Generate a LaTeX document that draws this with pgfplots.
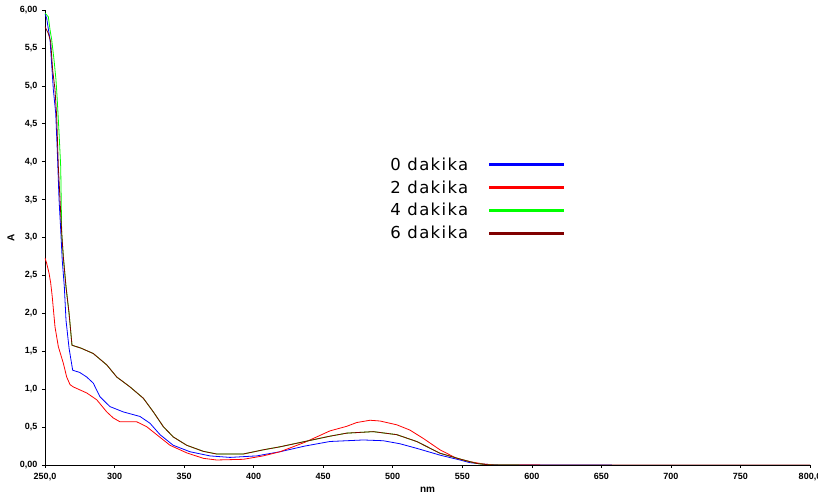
\documentclass[border=0pt]{standalone}
\usepackage{fontspec}
\setmainfont{Liberation Sans}
\newfontfamily\legfont[LetterSpace=8]{DejaVu Sans}
\usepackage{pgfplots}
\pgfplotsset{compat=1.18}
\definecolor{cblue}{RGB}{0,0,255}
\definecolor{cred}{RGB}{255,0,0}
\definecolor{cgreen}{RGB}{0,255,0}
\definecolor{cbrown}{RGB}{128,0,0}
\begin{document}
\begin{tikzpicture}
\begin{axis}[
  scale only axis,
  width=765pt, height=455pt,
  xmin=250, xmax=800, ymin=0, ymax=6,
  axis lines=left,
  axis line style={black, line width=0.8pt, -},
  tick align=outside,
  major tick length=3pt,
  tick style={black, line width=0.6pt},
  xtick={250,300,...,800},
  xticklabels={{\textbf{250,0}},\textbf{300},\textbf{350},\textbf{400},\textbf{450},\textbf{500},\textbf{550},\textbf{600},\textbf{650},\textbf{700},\textbf{750},{\textbf{800,0}}},
  ytick={0,0.5,...,6},
  yticklabels={{\textbf{0,00}},{\textbf{0,5}},{\textbf{1,0}},{\textbf{1,5}},{\textbf{2,0}},{\textbf{2,5}},{\textbf{3,0}},{\textbf{3,5}},{\textbf{4,0}},{\textbf{4,5}},{\textbf{5,0}},{\textbf{5,5}},{\textbf{6,00}}},
  ticklabel style={font=\fontsize{9}{10}\selectfont},
  xticklabel style={yshift=-1.5pt},
  yticklabel style={xshift=-1pt},
  xlabel={\textbf{nm}},
  ylabel={\textbf{A}},
  label style={font=\fontsize{9}{10}\selectfont},
  every axis x label/.style={at={(rel axis cs:0.5,0)}, anchor=center, yshift=-25pt},
  every axis y label/.style={at={(rel axis cs:0,0.5)}, anchor=center, xshift=-34pt, rotate=90},
  legend plot pos=right,
  legend cell align=left,
  legend style={draw=none, fill=none, at={(rel axis cs:0.450,0.678)}, anchor=north west,
    font=\legfont\fontsize{16.5}{19}\selectfont, inner sep=0pt, row sep=6.8pt,
    nodes={inner sep=1pt}},
  legend image code/.code={\path[draw=none] (0pt,0pt) -- (95pt,0pt); \draw[#1, line width=3pt] (20pt,0pt) -- (95pt,0pt);},
  every axis plot/.append style={line width=0.8pt},
]
\addplot[cblue] coordinates {
(250,5.95)(251.2,5.89)(253.6,5.61)(256.0,4.95)(257.7,4.64)(258.8,4.16)(260.1,3.50)(261.3,3.10)(262.4,2.70)(263.9,2.35)(265.1,1.91)(267.3,1.54)(269.9,1.25)(275,1.22)(280.0,1.16)(284.7,1.08)(289.5,0.90)(296.7,0.77)(306.3,0.70)(318.3,0.64)(325.5,0.55)(332.7,0.40)(342.2,0.26)(354.2,0.175)(368.6,0.12)(383.0,0.10)(402.2,0.12)(419.0,0.175)(436.9,0.25)(454.9,0.31)(466.9,0.32)(478.8,0.33)(493.2,0.32)(505.2,0.28)(517.2,0.22)(534.0,0.13)(548.4,0.066)(555.6,0.03)(566.3,0.01)(577,0)(657.6,0)
};
\addlegendentry{0 dakika}
\addplot[cred] coordinates {
(250,2.73)(251.2,2.66)(252.9,2.53)(254.1,2.40)(255.2,2.22)(257.2,1.82)(259.6,1.56)(263.2,1.34)(265.6,1.16)(268.0,1.06)(270.3,1.03)(280.0,0.95)(287.2,0.86)(294.4,0.70)(299.1,0.62)(303.9,0.57)(315.9,0.57)(323.1,0.505)(330.3,0.40)(339.9,0.26)(351.9,0.16)(363.8,0.088)(373.4,0.066)(392.6,0.075)(406.9,0.12)(419.0,0.175)(436.9,0.30)(454.9,0.45)(466.9,0.51)(474.1,0.56)(483.7,0.59)(490.9,0.58)(502.9,0.53)(512.4,0.46)(522.0,0.35)(534.0,0.20)(545.9,0.088)(555.6,0.044)(565.1,0.013)(573.5,0)(605.9,0)
};
\addlegendentry{2 dakika}
\addplot[cgreen] coordinates {
(250,5.96)(252.4,5.91)(253.6,5.74)(254.8,5.61)(256.5,5.34)(257.9,5.08)(258.8,4.82)(260.1,4.38)(261.3,3.93)(262.0,3.06)(263.2,2.74)(265.1,2.35)(267.3,2.00)(269.4,1.58)(276,1.54)(284.7,1.47)(294.4,1.32)(301.6,1.16)(311.1,1.03)(320.7,0.88)(327.9,0.70)(335.1,0.505)(342.2,0.37)(351.9,0.26)(363.8,0.18)(373.4,0.145)(392.6,0.145)(406.9,0.20)(419.0,0.24)(436.9,0.31)(454.9,0.38)(466.9,0.42)(486.0,0.44)(502.9,0.40)(517.2,0.31)(534.0,0.155)(550.8,0.066)(560.4,0.02)(570,0)(591,0)
};
\addlegendentry{4 dakika}
\addplot[cbrown] coordinates {
(250,5.78)(252.4,5.69)(254.1,5.58)(255.5,5.21)(257.2,4.95)(258.4,4.59)(259.6,3.93)(260.8,3.50)(262.0,3.06)(263.2,2.74)(265.1,2.35)(267.3,2.00)(269.4,1.58)(276,1.54)(284.7,1.47)(294.4,1.32)(301.6,1.16)(311.1,1.03)(320.7,0.88)(327.9,0.70)(335.1,0.505)(342.2,0.37)(351.9,0.26)(363.8,0.18)(373.4,0.145)(392.6,0.145)(406.9,0.20)(419.0,0.24)(436.9,0.31)(454.9,0.38)(466.9,0.42)(486.0,0.44)(502.9,0.40)(517.2,0.31)(534.0,0.155)(550.8,0.066)(560.4,0.02)(570,0)(800,0)
};
\addlegendentry{6 dakika}
\end{axis}
\pgfresetboundingbox
\path ([shift={(-45pt,-34pt)}]current axis.south west) rectangle ([shift={(8pt,10pt)}]current axis.north east);
\end{tikzpicture}
\end{document}
